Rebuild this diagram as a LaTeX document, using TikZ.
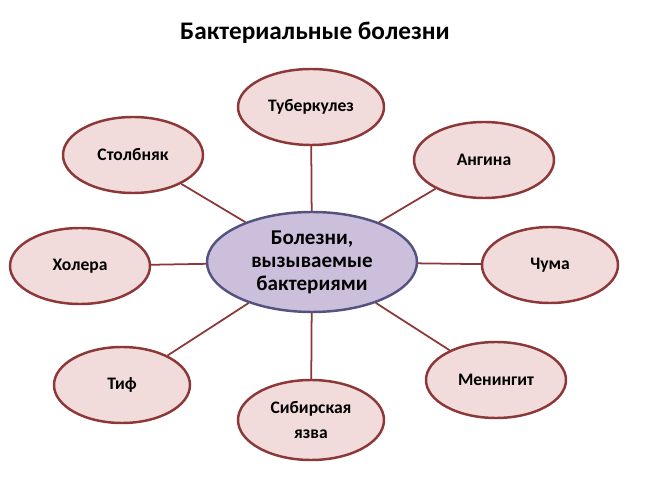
\documentclass[tikz,border=0pt]{standalone}
\usepackage{fontspec}
\setmainfont{Carlito}
\usetikzlibrary{shapes.geometric}
\definecolor{pink1}{rgb}{0.95,0.86,0.86}
\definecolor{red1}{rgb}{0.55,0.22,0.22}
\definecolor{violet1}{rgb}{0.80,0.75,0.86}
\definecolor{violet2}{rgb}{0.33,0.32,0.50}
\tikzset{
  disease/.style={ellipse, draw=red1, line width=1.4pt, fill=pink1, font=\bfseries\normalsize, align=center, inner sep=0pt},
  core/.style={ellipse, draw=violet2, line width=1.4pt, fill=violet1, font=\bfseries\large, align=center, inner sep=0pt, minimum width=210*0.02cm, minimum height=100*0.02cm},
  link/.style={draw=red1, line width=1pt}
}
\begin{document}
\begin{tikzpicture}[x=0.02cm,y=-0.02cm]
\useasboundingbox (0,0) rectangle (650,486);
\node[font=\bfseries\Large] (title) at (315,33) {Бактериальные болезни};
\node[core] (mid) at (312,262) {Болезни,\\[-1pt]вызываемые\\[-1pt]бактериями};

\node[disease, minimum width=146*0.02cm, minimum height=76*0.02cm] (tub) at (311,107) {Туберкулез};
\node[disease, minimum width=140*0.02cm, minimum height=76*0.02cm] (stol) at (133,155) {Столбняк};
\node[disease, minimum width=140*0.02cm, minimum height=76*0.02cm] (ang) at (484,160) {Ангина};
\node[disease, minimum width=140*0.02cm, minimum height=76*0.02cm] (hol) at (80,266) {Холера};
\node[disease, minimum width=136*0.02cm, minimum height=76*0.02cm] (chum) at (550,265) {Чума};
\node[disease, minimum width=136*0.02cm, minimum height=76*0.02cm] (tif) at (122,385) {Тиф};
\node[disease, minimum width=146*0.02cm, minimum height=80*0.02cm] (sib) at (311,420) {Сибирская\\[2pt]язва};
\node[disease, minimum width=140*0.02cm, minimum height=76*0.02cm] (men) at (496,380) {Менингит};

\foreach \n in {tub,stol,ang,hol,chum,tif,sib,men}
{
\draw[link] (mid) -- (\n);
}
\end{tikzpicture}
\end{document}
